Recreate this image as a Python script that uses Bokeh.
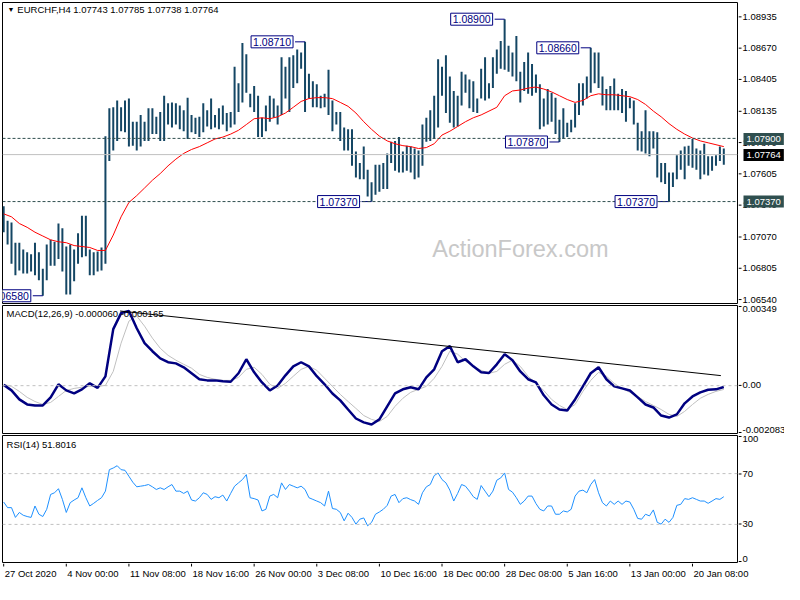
import numpy as np
from bokeh.plotting import figure
from bokeh.models import Range1d, Span, Label, ColumnDataSource
from bokeh.layouts import column, row
from bokeh.core.properties import value
from bokeh.embed import file_html
from bokeh.resources import INLINE

# ---------------- data (8-hour bars) ----------------
bar_high = [
    1.07331, 1.07210, 1.07194, 1.07025, 1.07025, 1.06968, 1.06944, 1.06928, 1.07025, 1.06944,
    1.06807, 1.07009, 1.07049, 1.07033, 1.07186, 1.07146, 1.06993, 1.07009, 1.06968, 1.07105,
    1.07251, 1.07251, 1.06968, 1.06944, 1.06952, 1.06985, 1.07919, 1.08153, 1.08161, 1.08218,
    1.08161, 1.08218, 1.08234, 1.08040, 1.08040, 1.08097, 1.08040, 1.08153, 1.08153, 1.08081,
    1.08121, 1.08258, 1.08194, 1.08202, 1.08194, 1.08177, 1.08137, 1.08242, 1.08097, 1.08073,
    1.08081, 1.08194, 1.08137, 1.08234, 1.08097, 1.08153, 1.08177, 1.08113, 1.08121, 1.08500,
    1.08363, 1.08701, 1.08605, 1.08274, 1.08339, 1.08258, 1.08073, 1.08177, 1.08258, 1.08234,
    1.08177, 1.08580, 1.08500, 1.08580, 1.08597, 1.08645, 1.08621, 1.08710, 1.08443, 1.08379,
    1.08355, 1.08258, 1.08274, 1.08476, 1.08218, 1.08121, 1.08121, 1.07992, 1.07976, 1.07976,
    1.07791, 1.07694, 1.07831, 1.07637, 1.07533, 1.07678, 1.07678, 1.07694, 1.07774, 1.07871,
    1.07879, 1.07911, 1.07791, 1.07839, 1.07831, 1.07815, 1.07799, 1.08016, 1.08073, 1.08137,
    1.08258, 1.08564, 1.08500, 1.08597, 1.08419, 1.08298, 1.08258, 1.08460, 1.08435, 1.08395,
    1.08379, 1.08234, 1.08484, 1.08580, 1.08363, 1.08580, 1.08645, 1.08718, 1.08900, 1.08677,
    1.08621, 1.08758, 1.08460, 1.08540, 1.08621, 1.08524, 1.08435, 1.08355, 1.08234, 1.08314,
    1.08282, 1.08242, 1.08057, 1.08153, 1.08032, 1.08057, 1.08194, 1.08363, 1.08363, 1.08419,
    1.08660, 1.08621, 1.08621, 1.08419, 1.08314, 1.08339, 1.08403, 1.08274, 1.08314, 1.08298,
    1.08242, 1.08218, 1.08032, 1.07960, 1.08137, 1.07960, 1.07960, 1.07952, 1.07694, 1.07694,
    1.07613, 1.07613, 1.07758, 1.07799, 1.07831, 1.07839, 1.07895, 1.07815, 1.07799, 1.07855,
    1.07750, 1.07750, 1.07758, 1.07831, 1.07815,
]
bar_low = [
    1.07113, 1.07009, 1.06848, 1.06751, 1.06791, 1.06767, 1.06767, 1.06783, 1.06751, 1.06710,
    1.06580, 1.06710, 1.06831, 1.06831, 1.06888, 1.06783, 1.06590, 1.06590, 1.06702, 1.06848,
    1.06904, 1.06912, 1.06751, 1.06751, 1.06783, 1.06791, 1.06848, 1.07710, 1.07799, 1.07879,
    1.07960, 1.07952, 1.07831, 1.07839, 1.07799, 1.07831, 1.07879, 1.07879, 1.07936, 1.07936,
    1.07879, 1.07879, 1.08016, 1.07992, 1.08016, 1.07976, 1.07960, 1.07895, 1.07952, 1.07936,
    1.07911, 1.07952, 1.08000, 1.07976, 1.07992, 1.07976, 1.08016, 1.07960, 1.07992, 1.08016,
    1.08121, 1.08202, 1.08282, 1.08161, 1.08121, 1.07911, 1.07911, 1.07960, 1.08040, 1.08073,
    1.08016, 1.08097, 1.08234, 1.08121, 1.08322, 1.08363, 1.08484, 1.08121, 1.08234, 1.08161,
    1.08161, 1.08153, 1.08161, 1.08097, 1.07960, 1.08016, 1.07879, 1.07799, 1.07799, 1.07670,
    1.07573, 1.07557, 1.07557, 1.07412, 1.07370, 1.07428, 1.07452, 1.07476, 1.07476, 1.07694,
    1.07629, 1.07613, 1.07613, 1.07629, 1.07613, 1.07557, 1.07573, 1.07670, 1.07871, 1.07879,
    1.07895, 1.07992, 1.08258, 1.08113, 1.08032, 1.07992, 1.08000, 1.08177, 1.08282, 1.08153,
    1.08121, 1.08113, 1.08234, 1.08218, 1.08234, 1.08322, 1.08443, 1.08484, 1.08476, 1.08460,
    1.08419, 1.08379, 1.08202, 1.08298, 1.08274, 1.08258, 1.08282, 1.07976, 1.08000, 1.08016,
    1.08040, 1.07936, 1.07870, 1.07895, 1.07911, 1.07952, 1.07992, 1.08097, 1.08177, 1.08234,
    1.08282, 1.08363, 1.08322, 1.08177, 1.08137, 1.08137, 1.08137, 1.08137, 1.08113, 1.08040,
    1.08153, 1.08016, 1.07799, 1.07791, 1.07774, 1.07750, 1.07815, 1.07573, 1.07533, 1.07517,
    1.07370, 1.07492, 1.07557, 1.07637, 1.07557, 1.07670, 1.07654, 1.07637, 1.07557, 1.07597,
    1.07589, 1.07629, 1.07670, 1.07710, 1.07678,
]
# moving average, one value every second 8h bar
ma_values = [
    1.07267, 1.07242, 1.07186, 1.07154, 1.07113, 1.07081, 1.07049, 1.07033, 1.07025, 1.07001,
    1.06993, 1.06985, 1.06960, 1.06960, 1.07089, 1.07242, 1.07363, 1.07420, 1.07484, 1.07549,
    1.07605, 1.07670, 1.07726, 1.07774, 1.07807, 1.07831, 1.07863, 1.07895, 1.07911, 1.07936,
    1.07968, 1.08016, 1.08065, 1.08073, 1.08065, 1.08081, 1.08113, 1.08161, 1.08210, 1.08234,
    1.08242, 1.08242, 1.08234, 1.08202, 1.08169, 1.08113, 1.08040, 1.07976, 1.07919, 1.07879,
    1.07855, 1.07839, 1.07831, 1.07815, 1.07823, 1.07855, 1.07928, 1.07960, 1.08000, 1.08040,
    1.08073, 1.08097, 1.08129, 1.08161, 1.08258, 1.08298, 1.08306, 1.08322, 1.08331, 1.08314,
    1.08290, 1.08258, 1.08226, 1.08202, 1.08218, 1.08258, 1.08274, 1.08266, 1.08266, 1.08258,
    1.08250, 1.08226, 1.08185, 1.08129, 1.08081, 1.08024, 1.07976, 1.07936, 1.07903, 1.07879,
    1.07863, 1.07847, 1.07831,
]
macd_main = [
    0.000035, -0.000205, -0.000599, -0.000817, -0.000861, -0.000861, -0.000511, 0.000057, -0.000205, -0.000336,
    -0.000162, 0.000101, -0.000096, 0.000406, 0.00246, 0.00316, 0.00325, 0.00250, 0.00185, 0.00150,
    0.00119, 0.00102, 0.00097, 0.00080, 0.00054, 0.00028, 0.00023, 0.00023, 0.00019, 0.00017,
    0.00054, 0.00115, 0.00058, 0.00014, -0.00021, 0.00001, 0.00045, 0.00084, 0.00102, 0.00084,
    0.00041, 0.00006, -0.00034, -0.00064, -0.00104, -0.00143, -0.00160, -0.00169, -0.00147, -0.00090,
    -0.00034, -0.00016, -0.00007, -0.00016, 0.00036, 0.00071, 0.00150, 0.00172, 0.00102, 0.00115,
    0.00084, 0.00058, 0.00055, 0.00093, 0.00137, 0.00111, 0.00062, 0.00028, 0.00014, -0.00042,
    -0.00082, -0.00104, -0.00108, -0.00060, -0.00003, 0.00054, 0.00080, 0.00028, -0.00003, -0.00012,
    -0.00021, -0.00051, -0.00082, -0.00095, -0.00130, -0.00139, -0.00125, -0.00077, -0.00047, -0.00029,
    -0.00018, -0.00016, -0.00006,
]
macd_signal = [
    0.00006, -0.00003, -0.00025, -0.00051, -0.00069, -0.00082, -0.00073, -0.00047, -0.00021, -0.00012,
    -0.00007, -0.00003, -0.00003, 0.00001, 0.00062, 0.00185, 0.00281, 0.00303, 0.00259, 0.00207,
    0.00163, 0.00132, 0.00111, 0.00093, 0.00076, 0.00049, 0.00036, 0.00028, 0.00023, 0.00023,
    0.00036, 0.00071, 0.00080, 0.00049, 0.00006, -0.00012, 0.00010, 0.00041, 0.00071, 0.00084,
    0.00067, 0.00032, -0.00003, -0.00038, -0.00069, -0.00099, -0.00130, -0.00147, -0.00156, -0.00134,
    -0.00090, -0.00055, -0.00029, -0.00016, -0.00003, 0.00032, 0.00084, 0.00150, 0.00137, 0.00106,
    0.00084, 0.00067, 0.00054, 0.00062, 0.00093, 0.00111, 0.00084, 0.00041, 0.00010, -0.00021,
    -0.00060, -0.00086, -0.00104, -0.00082, -0.00025, 0.00023, 0.00058, 0.00041, 0.00010, -0.00012,
    -0.00029, -0.00047, -0.00069, -0.00086, -0.00104, -0.00125, -0.00134, -0.00112, -0.00082, -0.00055,
    -0.00038, -0.00025, -0.000165,
]
rsi_values = [
    47.6, 43.2, 43.2, 35.5, 39.4, 37.2, 36.2, 35.5, 44.5, 38.0,
    36.2, 41.9, 53.6, 54.9, 58.1, 49.7, 39.4, 47.1, 49.2, 51.0,
    58.8, 51.0, 44.5, 46.6, 48.9, 51.0, 56.2, 73.1, 74.4, 76.2,
    73.1, 72.6, 67.9, 63.2, 59.6, 60.1, 60.6, 61.4, 59.6, 57.5,
    58.8, 57.5, 59.6, 61.4, 56.2, 56.2, 54.4, 56.2, 49.2, 48.4,
    51.0, 54.9, 53.6, 49.7, 51.8, 51.0, 53.1, 48.4, 54.4, 60.1,
    62.7, 65.3, 69.2, 51.0, 50.3, 49.2, 40.6, 41.9, 52.3, 53.6,
    51.0, 62.7, 57.5, 61.4, 60.1, 58.8, 60.1, 57.5, 51.0, 49.7,
    48.4, 47.1, 44.5, 56.2, 42.5, 41.9, 39.4, 32.8, 38.8, 35.5,
    30.2, 34.1, 35.1, 28.9, 31.6, 38.0, 39.8, 41.9, 45.0, 52.3,
    53.6, 47.1, 50.3, 51.0, 49.5, 48.4, 45.8, 54.9, 59.6, 61.4,
    68.4, 70.5, 65.3, 62.7, 57.0, 48.4, 54.4, 61.4, 60.1, 56.2,
    51.8, 49.7, 60.6, 56.2, 51.8, 56.2, 64.8, 66.6, 70.5, 57.5,
    55.4, 51.0, 45.8, 48.4, 52.3, 52.3, 46.4, 41.9, 40.6, 44.5,
    44.5, 38.0, 38.0, 40.6, 39.8, 41.9, 52.3, 56.2, 57.0, 54.9,
    61.4, 65.3, 54.9, 47.1, 44.5, 48.4, 45.8, 48.4, 45.8, 48.4,
    47.6, 41.9, 34.7, 34.1, 38.0, 36.7, 41.4, 31.6, 30.2, 34.1,
    31.6, 35.5, 45.0, 45.8, 50.3, 49.7, 51.0, 49.7, 48.4, 48.4,
    46.6, 48.4, 50.3, 49.7, 51.8,
]
price_ticks = [1.06540, 1.06805, 1.07070, 1.07340, 1.07605, 1.07870, 1.08135, 1.08405, 1.08670, 1.08935]
price_tick_labels = ["1.06540", "1.06805", "1.07070", "1.07340", "1.07605", "1.07870", "1.08135", "1.08405", "1.08670", "1.08935"]
macd_ticks = [0.00349, 0.0, -0.002083]
macd_tick_labels = ["0.00349", "0.00", "-0.002083"]
rsi_ticks = [100, 70, 30, 0]
rsi_tick_labels = ["100", "70", "30", "0"]
date_tick_bars = [0, 16, 32, 48, 64, 80, 96, 112, 128, 144, 160, 176]
date_tick_labels = ["27 Oct 2020", "4 Nov 00:00", "11 Nov 08:00", "18 Nov 16:00", "26 Nov 00:00", "3 Dec 08:00",
                    "10 Dec 16:00", "18 Dec 00:00", "28 Dec 08:00", "5 Jan 16:00", "13 Jan 00:00", "20 Jan 08:00"]
swing_bars = [10, 77, 94, 128, 142, 150, 170]
swing_prices = [1.06580, 1.08710, 1.07370, 1.08900, 1.07870, 1.08660, 1.07370]
swing_texts = ["1.06580", "1.08710", "1.07370", "1.08900", "1.07870", "1.08660", "1.07370"]
level_prices = [1.07900, 1.07370]
level_texts = ["1.07900", "1.07370"]
last_price = 1.07764
last_text = "1.07764"
title_text = "EURCHF,H4 1.07743 1.07785 1.07738 1.07764"
macd_text = "MACD(12,26,9) -0.000060 -0.000165"
rsi_text = "RSI(14) 51.8016"
macd_trend_bars = [29.75, 183.25]
macd_trend_vals = [0.00325, 0.000437]
price_lo, price_hi = 1.06515, 1.09040
macd_lo, macd_hi = -0.002083, 0.00349

# ---------------- layout / style ----------------
FONT = "Liberation Sans"
FS = "9.5px"
W = 784
RB = 46                  # right price-scale column
WP = W - RB              # panel figure width
LB, RBP = 2, 1           # panel borders left / right
FW = WP - LB - RBP       # frame width
xr = Range1d(-0.3, 187.5)
PX = (xr.end - xr.start) / FW          # bar units per pixel
BAR_COL = "#144664"
NAVY = "#000080"


def panel(h, top, bottom, yr):
    p = figure(width=WP, height=h, x_range=xr, y_range=yr, x_axis_type=None, y_axis_type=None,
               output_backend="svg", toolbar_location=None,
               min_border_left=LB, min_border_right=RBP, min_border_top=top, min_border_bottom=bottom)
    p.outline_line_color = "black"
    p.outline_line_width = 1
    p.background_fill_color = "white"
    p.border_fill_color = "white"
    return p


def scale_col(h, lo, hi, top, bottom, step):
    # right price-scale column; its frame covers the full height, same value-to-pixel mapping
    a = figure(width=RB, height=h, x_range=Range1d(0, RB), y_range=Range1d(lo - bottom * step, hi + top * step),
               x_axis_type=None, y_axis_type=None, output_backend="svg", toolbar_location=None,
               min_border_left=0, min_border_right=0, min_border_top=0, min_border_bottom=0)
    a.outline_line_color = None
    a.background_fill_color = "white"
    a.border_fill_color = "white"
    return a


def txt(p, x, y, text, size=FS, color="black", align="left", baseline="middle", **kw):
    lab = Label(x=x, y=y, text=text, text_font=FONT, text_font_size=size, text_color=color,
                text_align=align, text_baseline=baseline, **kw)
    p.add_layout(lab)
    return lab


def ticks_and_labels(a, ticks, labels, baselines):
    a.segment(x0=0, x1=3, y0=ticks, y1=ticks, line_color="black", line_width=1)
    src = ColumnDataSource(dict(y=ticks, t=labels, b=baselines))
    a.text(x=4, y="y", text="t", text_baseline="b", text_font=value(FONT), text_font_size=value(FS),
           text_color="black", source=src)


# ---------------- main price panel ----------------
H1, T1, B1 = 304, 2, 1
p1 = panel(H1, T1, B1, Range1d(price_lo, price_hi))
PY1 = (price_hi - price_lo) / (H1 - T1 - B1)

txt(p1, 109.5, 1.06976, "ActionForex.com", size="23.5px", color="#c8c8c8", level="underlay")

bars = ColumnDataSource(dict(x=np.arange(len(bar_high)), hi=bar_high, lo=bar_low))
p1.segment(x0="x", y0="lo", x1="x", y1="hi", source=bars, line_color=BAR_COL, line_width=2)
p1.line(np.arange(len(ma_values)) * 2, ma_values, line_color="red", line_width=1)

for lv in level_prices:
    p1.add_layout(Span(location=lv, dimension="width", line_color="#2f4f4f", line_dash="3 2", line_width=1))
p1.add_layout(Span(location=last_price, dimension="width", line_color="#c0c0c0", line_width=1))

conn = ColumnDataSource(dict(x0=[b - 10 * PX for b in swing_bars], x1=swing_bars, y=swing_prices))
p1.segment(x0="x0", y0="y", x1="x1", y1="y", source=conn, line_color=NAVY, line_width=1)
for b, pr, t in zip(swing_bars, swing_prices, swing_texts):
    txt(p1, b - 12 * PX, pr, t, size="10.5px", color=NAVY, align="right",
        background_fill_color="white", border_line_color=NAVY, border_line_width=1, padding=2)

txt(p1, 3.5, price_hi - 7 * PY1, title_text)
txt(p1, 1.0, price_hi - 7 * PY1, "\u25bc", size="7px")

a1 = scale_col(H1, price_lo, price_hi, T1, B1, PY1)
ticks_and_labels(a1, price_ticks, price_tick_labels, ["middle"] * len(price_ticks))
for lv, t in zip(level_prices, level_texts):
    txt(a1, 5, lv, t, color="white", background_fill_color="#2f4f4f", padding=3)
txt(a1, 5, last_price, last_text, color="white", background_fill_color="black", padding=3)

# ---------------- MACD panel ----------------
H2, T2, B2 = 130, 1, 1
p2 = panel(H2, T2, B2, Range1d(macd_lo, macd_hi))
PY2 = (macd_hi - macd_lo) / (H2 - T2 - B2)
p2.add_layout(Span(location=0, dimension="width", line_color="#c0c0c0", line_dash="3 3", line_width=1))
mx = np.arange(len(macd_main)) * 2
p2.line(mx, macd_signal, line_color="#c0c0c0", line_width=1)
p2.line(mx, macd_main, line_color=NAVY, line_width=2.5)
p2.line(macd_trend_bars, macd_trend_vals, line_color="black", line_width=1)
txt(p2, 0.75, macd_hi - 8 * PY2, macd_text)

a2 = scale_col(H2, macd_lo, macd_hi, T2, B2, PY2)
ticks_and_labels(a2, macd_ticks, macd_tick_labels, ["top", "middle", "bottom"])

# ---------------- RSI panel ----------------
H3, T3, B3 = 129, 1, 1
p3 = panel(H3, T3, B3, Range1d(0, 100))
PY3 = 100.0 / (H3 - T3 - B3)
for lv in (30, 70):
    p3.add_layout(Span(location=lv, dimension="width", line_color="#c0c0c0", line_dash="3 3", line_width=1))
p3.line(np.arange(len(rsi_values)), rsi_values, line_color="#1e90ff", line_width=1)
txt(p3, 0.75, 100 - 9 * PY3, rsi_text)

a3 = scale_col(H3, 0, 100, T3, B3, PY3)
ticks_and_labels(a3, rsi_ticks, rsi_tick_labels, ["top", "middle", "middle", "bottom"])

# ---------------- date strip ----------------
H4 = 21
dstrip = figure(width=W, height=H4, x_range=Range1d(xr.start, xr.start + (W - LB) * PX), y_range=Range1d(H4, 0),
                x_axis_type=None, y_axis_type=None, output_backend="svg", toolbar_location=None,
                min_border_left=LB, min_border_right=0, min_border_top=0, min_border_bottom=0)
dstrip.outline_line_color = None
dstrip.background_fill_color = "white"
dstrip.border_fill_color = "white"
dsrc = ColumnDataSource(dict(x=date_tick_bars, t=date_tick_labels))
dstrip.segment(x0="x", x1="x", y0=0, y1=3, source=dsrc, line_color="black", line_width=1)
dstrip.text(x="x", y=10, text="t", source=dsrc, x_offset=1, text_align="left", text_baseline="middle",
            text_font=value(FONT), text_font_size=value(FS), text_color="black")

layout = column(row(p1, a1, spacing=0), row(p2, a2, spacing=0), row(p3, a3, spacing=0), dstrip, spacing=0)
open("out.html", "w").write(file_html(layout, INLINE))
